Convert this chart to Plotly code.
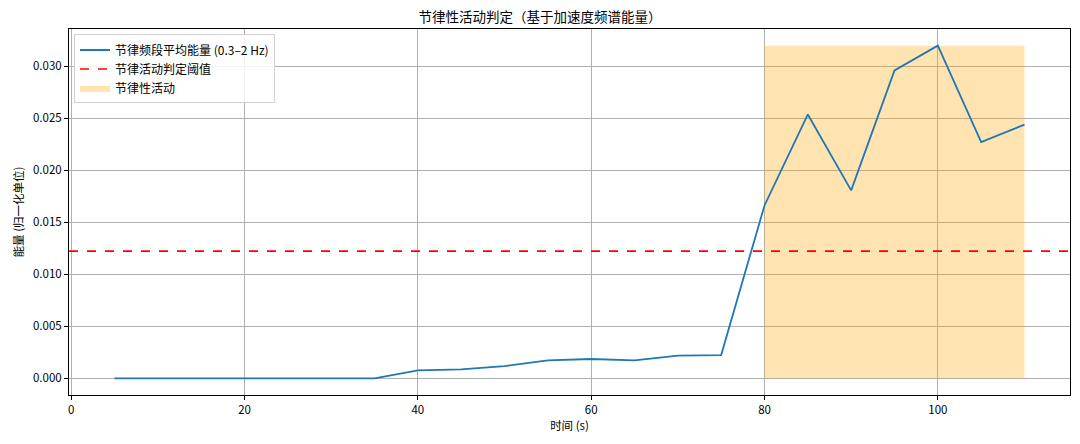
import plotly.graph_objects as go

# Time points (s) and mean energy in the rhythmic band (0.3–2 Hz)
time_s = [5, 10, 15, 20, 25, 30, 35, 40, 45, 50, 55, 60, 65, 70, 75,
          80, 85, 90, 95, 100, 105, 110]
energy = [0.0, 0.0, 0.0, 0.0, 0.0, 0.0, 0.0, 0.00077, 0.00087, 0.00118,
          0.00173, 0.00186, 0.00173, 0.00218, 0.00224,
          0.01663, 0.02538, 0.01808, 0.02962, 0.0320, 0.02272, 0.0244]
threshold = 0.01224

# Span flagged as rhythmic activity
active_start, active_end = 80, 110

FONT = "Noto Sans CJK SC, Noto Sans, DejaVu Sans"

fig = go.Figure()

peak = max(energy)
fig.add_trace(go.Scatter(
    x=[active_start, active_end, active_end, active_start, active_start],
    y=[0, 0, peak, peak, 0],
    fill="toself", fillcolor="rgba(255,165,0,0.3)",
    mode="lines", line=dict(width=0, color="rgba(255,165,0,0.3)"),
    name="节律性活动", hoverinfo="skip", legendrank=3,
))

fig.add_trace(go.Scatter(
    x=time_s, y=energy, mode="lines",
    line=dict(color="#1f77b4", width=1.8),
    name="节律频段平均能量 (0.3–2 Hz)", legendrank=1,
))

fig.add_trace(go.Scatter(
    x=[-0.25, 115.25], y=[threshold, threshold], mode="lines",
    line=dict(color="red", width=1.6, dash="dash"),
    name="节律活动判定阈值", legendrank=2,
))

axis_common = dict(
    showline=True, linecolor="black", linewidth=1, mirror=True,
    ticks="outside", ticklen=4, tickcolor="black",
    showgrid=True, gridcolor="#b0b0b0", gridwidth=0.8,
    zeroline=False,
    tickfont=dict(family=FONT, size=11.5, color="black"),
)

fig.update_layout(
    width=1080, height=444,
    margin=dict(l=69, r=10, t=29, b=49),
    paper_bgcolor="white", plot_bgcolor="white",
    font=dict(family=FONT, size=11.5, color="black"),
    title=dict(text="节律性活动判定（基于加速度频谱能量）",
               x=0.5, xanchor="center", y=0.962, yanchor="middle",
               font=dict(family=FONT, size=13.5, color="black")),
    legend=dict(
        x=0.005, y=0.985, xanchor="left", yanchor="top",
        bgcolor="rgba(255,255,255,0.85)", bordercolor="#d0d0d0", borderwidth=1,
        font=dict(family=FONT, size=12), tracegroupgap=0,
        traceorder="normal",
    ),
    showlegend=True,
)

fig.update_xaxes(
    range=[-0.25, 115.25], tickvals=[0, 20, 40, 60, 80, 100],
    title=dict(text="时间 (s)", font=dict(family=FONT, size=11.5), standoff=6),
    **axis_common,
)
fig.update_yaxes(
    range=[-0.0016, 0.0336],
    tickvals=[0.0, 0.005, 0.010, 0.015, 0.020, 0.025, 0.030],
    tickformat=".3f",
    title=dict(text="能量 (归一化单位)", font=dict(family=FONT, size=11.5), standoff=6),
    **axis_common,
)

fig.write_html("out.html")
